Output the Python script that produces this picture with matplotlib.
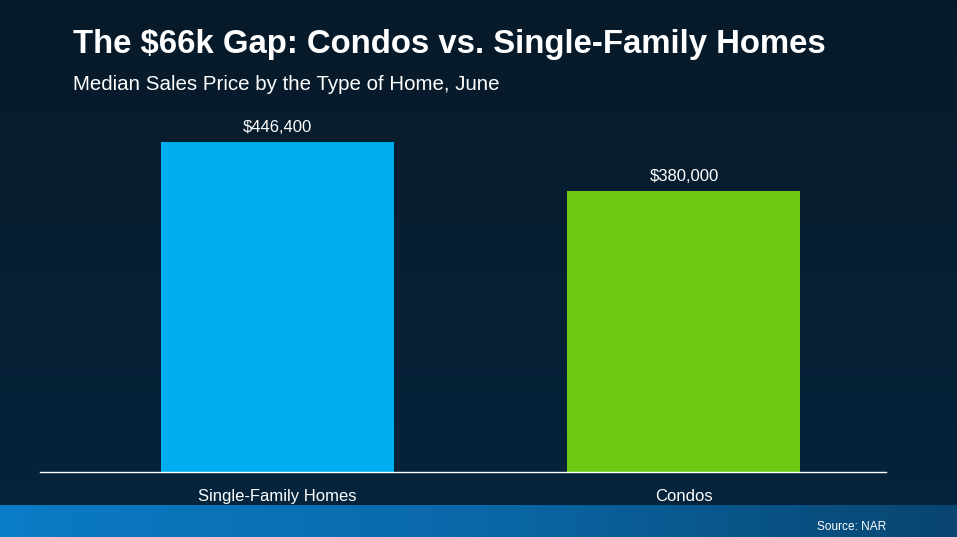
import numpy as np
import matplotlib
matplotlib.use('Agg')
import matplotlib.pyplot as plt
from matplotlib.colors import LinearSegmentedColormap

plt.rcParams['font.family'] = ['Liberation Sans', 'DejaVu Sans']

# data
categories = ['Single-Family Homes', 'Condos']
prices = [446400, 380000]
price_labels = ['$446,400', '$380,000']
bar_colors = ['#00adef', '#6ec912']

W, H = 957, 537
fig = plt.figure(figsize=(W / 100, H / 100), dpi=100)

# background gradient (dark navy)
bg = fig.add_axes([0, 0, 1, 1])
bg_cmap = LinearSegmentedColormap.from_list('bg', ['#081a29', '#05243c'])
grad = np.linspace(0, 1, 256).reshape(-1, 1)
bg.imshow(grad, aspect='auto', cmap=bg_cmap, extent=[0, 1, 0, 1], origin='upper')
bg.axis('off')

# bottom blue strip
strip = fig.add_axes([0, 0, 1, 32 / H])
strip_cmap = LinearSegmentedColormap.from_list('strip', ['#0b7cc6', '#0a68a8', '#084570'])
strip.imshow(np.linspace(0, 1, 256).reshape(1, -1), aspect='auto', cmap=strip_cmap,
             extent=[0, 1, 0, 1])
strip.axis('off')
fig.text(886 / W, 1 - 527 / H, 'Source: NAR', color='white', fontsize=8.6,
         ha='right', va='center')

# chart
ax = fig.add_axes([40 / W, 1 - 472 / H, 846 / W, 372 / H])
ax.patch.set_alpha(0)
x = np.arange(len(categories))
bars = ax.bar(x, prices, width=0.573, color=bar_colors)
ax.set_ylim(0, 446400 * 372 / 330)
ax.set_xlim(-0.584, 1.497)
for b, lab in zip(bars, price_labels):
    ax.text(b.get_x() + b.get_width() / 2, b.get_height() + 9000, lab,
            ha='center', va='bottom', color='white', fontsize=12)

for s in ['top', 'right', 'left']:
    ax.spines[s].set_visible(False)
ax.spines['bottom'].set_color('white')
ax.spines['bottom'].set_linewidth(1)
ax.set_yticks([])
ax.set_xticks(x)
ax.set_xticklabels(categories, color='white', fontsize=12)
ax.tick_params(axis='x', length=0, pad=12)

fig.text(73 / W, 1 - 45 / H, 'The $66k Gap: Condos vs. Single-Family Homes',
         color='white', fontsize=23.7, fontweight='bold', va='center')
fig.text(73 / W, 1 - 85 / H, 'Median Sales Price by the Type of Home, June',
         color='white', fontsize=14.8, va='center')

fig.savefig('out.png', dpi=100)
